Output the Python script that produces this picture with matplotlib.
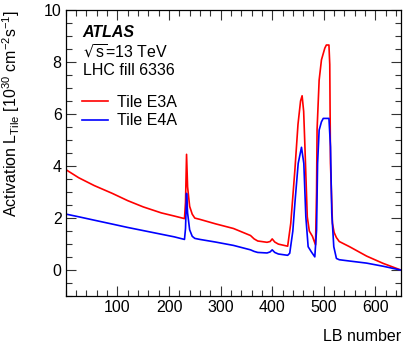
import numpy as np
import matplotlib.pyplot as plt
from matplotlib.ticker import MultipleLocator, FixedLocator

plt.rcParams['font.family'] = ['Liberation Sans', 'DejaVu Sans']
plt.rcParams['mathtext.default'] = 'regular'
plt.rcParams['font.size'] = 11.5

# Tile E3A
lb_e3a = [1, 25, 55, 90, 120, 150, 185, 210, 230, 232, 234, 236, 240, 245, 250,
          260, 290, 325, 358, 365, 372, 390, 396, 400, 405, 412, 430, 436, 444,
          450, 455, 458, 461, 463, 468, 472, 478, 484, 486, 487, 491, 495.5, 502,
          505, 510, 511.6, 513, 516.8, 520, 524.5, 530, 550, 583, 615, 650]
act_e3a = [3.85, 3.55, 3.25, 2.95, 2.67, 2.43, 2.2, 2.08, 1.98, 2.6, 4.45, 3.2, 2.45, 2.15, 2.0,
           1.95, 1.78, 1.6, 1.33, 1.2, 1.12, 1.07, 1.1, 1.2, 1.08, 1.0, 0.92, 1.8, 3.85,
           5.6, 6.5, 6.7, 6.1, 5.0, 2.05, 1.5, 1.3, 0.97, 3.0, 5.4, 7.3, 8.08, 8.53,
           8.65, 8.65, 7.9, 4.1, 1.8, 1.45, 1.25, 1.1, 0.9, 0.54, 0.26, 0.0]

# Tile E4A
lb_e4a = [1, 25, 55, 90, 120, 150, 185, 210, 230, 232, 234, 236, 240, 245, 250,
          260, 290, 325, 358, 365, 372, 390, 396, 400, 405, 412, 430, 434, 440, 444,
          450.4, 456.8, 461.3, 465.2, 469.7, 476, 482.6, 486, 488, 491, 495.5, 499,
          510, 513, 515.5, 519.4, 524.5, 530, 550, 583, 615, 650]
act_e4a = [2.15, 2.05, 1.92, 1.77, 1.64, 1.52, 1.38, 1.28, 1.18, 1.6, 2.95, 2.2, 1.55, 1.3, 1.22,
           1.18, 1.08, 0.95, 0.78, 0.72, 0.68, 0.66, 0.7, 0.78, 0.68, 0.62, 0.57, 0.65, 1.5, 2.57,
           4.1, 4.72, 4.1, 2.05, 0.9, 0.7, 0.51, 1.54, 4.1, 5.38, 5.7, 5.83,
           5.83, 4.74, 2.19, 0.9, 0.45, 0.4, 0.35, 0.27, 0.15, 0.0]

fig = plt.figure(figsize=(4.14, 3.53), dpi=100)
ax = fig.add_axes([0.159, 0.161, 0.81, 0.811])

ax.plot(lb_e3a, act_e3a, color='red', linewidth=1.2, label='Tile E3A')
ax.plot(lb_e4a, act_e4a, color='blue', linewidth=1.2, label='Tile E4A')

ax.set_xlim(0, 650)
ax.set_ylim(-1, 10)
ax.xaxis.set_major_locator(FixedLocator([100, 200, 300, 400, 500, 600]))
ax.xaxis.set_minor_locator(MultipleLocator(20))
ax.yaxis.set_major_locator(FixedLocator([0, 2, 4, 6, 8, 10]))
ax.yaxis.set_minor_locator(MultipleLocator(0.5))
ax.tick_params(which='both', direction='in', top=True, right=True, width=0.8, color='#333333')
ax.tick_params(which='major', length=7, pad=3)
ax.tick_params(which='minor', length=4)
for s in ax.spines.values():
    s.set_linewidth(0.9)

ax.set_xlabel('LB number', loc='right')
ax.xaxis.set_label_coords(1.0, -0.115)
ax.set_ylabel(r'Activation L$_{Tile}$ [10$^{30}$ cm$^{-2}$s$^{-1}$]', loc='top')
ax.yaxis.set_label_coords(-0.13, 1.0)

ax.text(0.05, 0.92, 'ATLAS', transform=ax.transAxes, fontweight='bold', fontstyle='italic',
        va='center', ha='left')
ax.text(0.05, 0.853, r'$\sqrt{s}$=13 TeV', transform=ax.transAxes, va='center', ha='left')
ax.text(0.05, 0.787, 'LHC fill 6336', transform=ax.transAxes, va='center', ha='left')

ax.legend(loc='upper left', bbox_to_anchor=(0.015, 0.743), frameon=False,
          handlelength=1.6, handletextpad=0.6, labelspacing=0.22, borderpad=0.2)

plt.savefig('out.png', dpi=100)
